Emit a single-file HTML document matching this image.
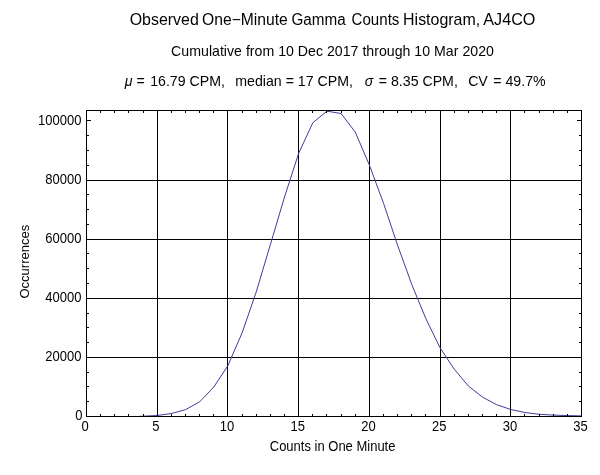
<!DOCTYPE html>
<html><head><meta charset="utf-8"><title>Histogram</title>
<style>
html,body{margin:0;padding:0;background:#fff;overflow:hidden;}
svg{display:block;}
text{font-family:"Liberation Sans",sans-serif;font-size:14px;fill:#000;}
.t{opacity:0.999;}
.k rect{fill:#000;shape-rendering:crispEdges;}
</style></head><body>
<svg width="600" height="475" viewBox="0 0 600 475">
<rect width="600" height="475" fill="#fff"/>
<g class="k">
<rect x="157" y="110" width="1" height="307"/>
<rect x="227" y="110" width="1" height="307"/>
<rect x="298" y="110" width="1" height="307"/>
<rect x="369" y="110" width="1" height="307"/>
<rect x="440" y="110" width="1" height="307"/>
<rect x="510" y="110" width="1" height="307"/>
<rect x="86" y="357" width="496" height="1"/>
<rect x="86" y="298" width="496" height="1"/>
<rect x="86" y="239" width="496" height="1"/>
<rect x="86" y="180" width="496" height="1"/>
</g>
<polyline points="139.54,416.30 143.07,416.20 157.21,415.50 171.36,413.50 185.50,409.70 199.64,401.80 213.79,387.00 227.93,365.60 242.07,332.90 256.21,292.00 270.36,244.60 284.50,197.00 298.64,153.40 312.79,122.80 326.93,111.20 341.07,113.50 355.21,132.00 369.36,165.00 383.50,203.20 397.64,245.40 411.79,284.50 425.93,318.80 440.07,347.80 454.21,369.20 468.36,386.00 482.50,397.10 496.64,404.70 510.79,409.50 524.93,412.50 539.07,414.30 553.21,415.10 567.36,415.60 581.50,415.90" fill="none" stroke="#3f3d99" stroke-width="1" stroke-linejoin="round"/>
<g class="k">
<rect x="86" y="110" width="496" height="1"/>
<rect x="86" y="416" width="496" height="1"/>
<rect x="86" y="110" width="1" height="307"/>
<rect x="581" y="110" width="1" height="307"/>
<rect x="100" y="414" width="1" height="2"/>
<rect x="100" y="111" width="1" height="2"/>
<rect x="114" y="414" width="1" height="2"/>
<rect x="114" y="111" width="1" height="2"/>
<rect x="128" y="414" width="1" height="2"/>
<rect x="128" y="111" width="1" height="2"/>
<rect x="143" y="414" width="1" height="2"/>
<rect x="143" y="111" width="1" height="2"/>
<rect x="157" y="412" width="1" height="4"/>
<rect x="157" y="111" width="1" height="4"/>
<rect x="171" y="414" width="1" height="2"/>
<rect x="171" y="111" width="1" height="2"/>
<rect x="185" y="414" width="1" height="2"/>
<rect x="185" y="111" width="1" height="2"/>
<rect x="199" y="414" width="1" height="2"/>
<rect x="199" y="111" width="1" height="2"/>
<rect x="213" y="414" width="1" height="2"/>
<rect x="213" y="111" width="1" height="2"/>
<rect x="227" y="412" width="1" height="4"/>
<rect x="227" y="111" width="1" height="4"/>
<rect x="242" y="414" width="1" height="2"/>
<rect x="242" y="111" width="1" height="2"/>
<rect x="256" y="414" width="1" height="2"/>
<rect x="256" y="111" width="1" height="2"/>
<rect x="270" y="414" width="1" height="2"/>
<rect x="270" y="111" width="1" height="2"/>
<rect x="284" y="414" width="1" height="2"/>
<rect x="284" y="111" width="1" height="2"/>
<rect x="298" y="412" width="1" height="4"/>
<rect x="298" y="111" width="1" height="4"/>
<rect x="312" y="414" width="1" height="2"/>
<rect x="312" y="111" width="1" height="2"/>
<rect x="326" y="414" width="1" height="2"/>
<rect x="326" y="111" width="1" height="2"/>
<rect x="341" y="414" width="1" height="2"/>
<rect x="341" y="111" width="1" height="2"/>
<rect x="355" y="414" width="1" height="2"/>
<rect x="355" y="111" width="1" height="2"/>
<rect x="369" y="412" width="1" height="4"/>
<rect x="369" y="111" width="1" height="4"/>
<rect x="383" y="414" width="1" height="2"/>
<rect x="383" y="111" width="1" height="2"/>
<rect x="397" y="414" width="1" height="2"/>
<rect x="397" y="111" width="1" height="2"/>
<rect x="411" y="414" width="1" height="2"/>
<rect x="411" y="111" width="1" height="2"/>
<rect x="425" y="414" width="1" height="2"/>
<rect x="425" y="111" width="1" height="2"/>
<rect x="440" y="412" width="1" height="4"/>
<rect x="440" y="111" width="1" height="4"/>
<rect x="454" y="414" width="1" height="2"/>
<rect x="454" y="111" width="1" height="2"/>
<rect x="468" y="414" width="1" height="2"/>
<rect x="468" y="111" width="1" height="2"/>
<rect x="482" y="414" width="1" height="2"/>
<rect x="482" y="111" width="1" height="2"/>
<rect x="496" y="414" width="1" height="2"/>
<rect x="496" y="111" width="1" height="2"/>
<rect x="510" y="412" width="1" height="4"/>
<rect x="510" y="111" width="1" height="4"/>
<rect x="524" y="414" width="1" height="2"/>
<rect x="524" y="111" width="1" height="2"/>
<rect x="539" y="414" width="1" height="2"/>
<rect x="539" y="111" width="1" height="2"/>
<rect x="553" y="414" width="1" height="2"/>
<rect x="553" y="111" width="1" height="2"/>
<rect x="567" y="414" width="1" height="2"/>
<rect x="567" y="111" width="1" height="2"/>
<rect x="87" y="401" width="2" height="1"/>
<rect x="579" y="401" width="2" height="1"/>
<rect x="87" y="386" width="2" height="1"/>
<rect x="579" y="386" width="2" height="1"/>
<rect x="87" y="372" width="2" height="1"/>
<rect x="579" y="372" width="2" height="1"/>
<rect x="87" y="357" width="4" height="1"/>
<rect x="577" y="357" width="4" height="1"/>
<rect x="87" y="342" width="2" height="1"/>
<rect x="579" y="342" width="2" height="1"/>
<rect x="87" y="327" width="2" height="1"/>
<rect x="579" y="327" width="2" height="1"/>
<rect x="87" y="313" width="2" height="1"/>
<rect x="579" y="313" width="2" height="1"/>
<rect x="87" y="298" width="4" height="1"/>
<rect x="577" y="298" width="4" height="1"/>
<rect x="87" y="283" width="2" height="1"/>
<rect x="579" y="283" width="2" height="1"/>
<rect x="87" y="268" width="2" height="1"/>
<rect x="579" y="268" width="2" height="1"/>
<rect x="87" y="253" width="2" height="1"/>
<rect x="579" y="253" width="2" height="1"/>
<rect x="87" y="239" width="4" height="1"/>
<rect x="577" y="239" width="4" height="1"/>
<rect x="87" y="224" width="2" height="1"/>
<rect x="579" y="224" width="2" height="1"/>
<rect x="87" y="209" width="2" height="1"/>
<rect x="579" y="209" width="2" height="1"/>
<rect x="87" y="194" width="2" height="1"/>
<rect x="579" y="194" width="2" height="1"/>
<rect x="87" y="180" width="4" height="1"/>
<rect x="577" y="180" width="4" height="1"/>
<rect x="87" y="165" width="2" height="1"/>
<rect x="579" y="165" width="2" height="1"/>
<rect x="87" y="150" width="2" height="1"/>
<rect x="579" y="150" width="2" height="1"/>
<rect x="87" y="135" width="2" height="1"/>
<rect x="579" y="135" width="2" height="1"/>
<rect x="87" y="120" width="4" height="1"/>
<rect x="577" y="120" width="4" height="1"/>
</g>
<g class="t">
<text transform="translate(85.2,431) scale(0.929,1)" text-anchor="middle">0</text>
<text transform="translate(155.9,431) scale(0.929,1)" text-anchor="middle">5</text>
<text transform="translate(227.0,431) scale(0.929,1)" text-anchor="middle">10</text>
<text transform="translate(297.7,431) scale(0.929,1)" text-anchor="middle">15</text>
<text transform="translate(368.5,431) scale(0.929,1)" text-anchor="middle">20</text>
<text transform="translate(439.2,431) scale(0.929,1)" text-anchor="middle">25</text>
<text transform="translate(509.9,431) scale(0.929,1)" text-anchor="middle">30</text>
<text transform="translate(580.6,431) scale(0.929,1)" text-anchor="middle">35</text>
<text transform="translate(82.6,420) scale(0.929,1)" text-anchor="end">0</text>
<text transform="translate(81.4,361) scale(0.929,1)" text-anchor="end">20000</text>
<text transform="translate(81.4,302) scale(0.929,1)" text-anchor="end">40000</text>
<text transform="translate(81.4,243) scale(0.929,1)" text-anchor="end">60000</text>
<text transform="translate(81.4,184) scale(0.929,1)" text-anchor="end">80000</text>
<text transform="translate(81.4,125) scale(0.929,1)" text-anchor="end">100000</text>
<text transform="translate(129.70,25) scale(0.9969,1)" style="font-size:16px">Observed</text>
<text transform="translate(202.07,25) scale(0.9790,1)" style="font-size:16px">One&#8722;Minute</text>
<text transform="translate(291.48,25) scale(0.9521,1)" style="font-size:16px">Gamma</text>
<text transform="translate(351.55,25) scale(0.9437,1)" style="font-size:16px">Counts</text>
<text transform="translate(403.08,25) scale(0.9971,1)" style="font-size:16px">Histogram,</text>
<text transform="translate(483.30,25) scale(1.0123,1)" style="font-size:16px">AJ4CO</text>
<text id="t2" transform="translate(332.5,56) scale(1.012,1)" text-anchor="middle">Cumulative from 10 Dec 2017 through 10 Mar 2020</text>
<text id="t3" transform="translate(335.2,86) scale(1.012,1)" text-anchor="middle" xml:space="preserve" style="white-space:pre"><tspan font-style="italic">&#956;</tspan> = <tspan dx="1.5">16.79 CPM,</tspan>   <tspan dx="-1.5">median = 17 CPM,</tspan>   <tspan font-style="italic">&#963;</tspan> <tspan dx="1.5">= 8.35 CPM,</tspan>   <tspan dx="-1.5">CV</tspan> <tspan dx="1.5">= 49.7%</tspan></text>
<text id="tx" transform="translate(332.6,451) scale(0.929,1)" text-anchor="middle">Counts in One Minute</text>
<text id="ty" transform="translate(29,261.7) rotate(-90)" text-anchor="middle" style="font-size:13px">Occurrences</text>
</g>
</svg>
</body></html>
